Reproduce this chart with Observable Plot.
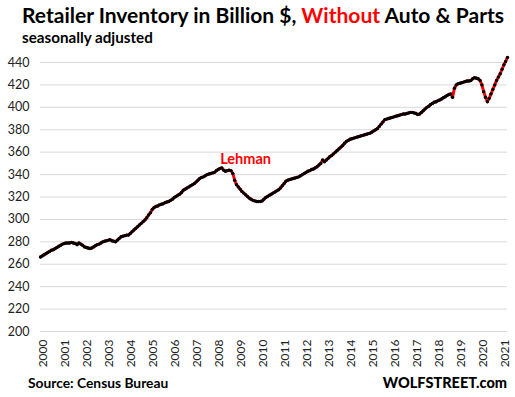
<!DOCTYPE html>
<html>
<head>
<meta charset="utf-8">
<script src="https://cdn.jsdelivr.net/npm/d3@7"></script>
<script src="https://cdn.jsdelivr.net/npm/@observablehq/plot@0.6"></script>
<style>
  html, body { margin: 0; padding: 0; background: #fff; }
  body { width: 515px; height: 397px; overflow: hidden; font-family: Lato, "Open Sans", sans-serif; }
  #header { position: relative; height: 52px; }
  #title { position: absolute; left: 22px; top: 2.6px; font-size: 21px; line-height: 24px; font-weight: 700; color: #000; white-space: nowrap; }
  #title .red { color: #ff0000; }
  #subtitle { position: absolute; left: 22px; top: 28.4px; font-size: 15.2px; line-height: 18px; font-weight: 700; color: #000; white-space: nowrap; }
  #chart { height: 320px; }
  #footer { position: relative; height: 25px; }
  #source { position: absolute; left: 28px; top: 1px; font-size: 13.8px; line-height: 20px; font-weight: 700; color: #000; }
  #brand { position: absolute; right: 8px; top: 1px; font-size: 14.5px; line-height: 20px; font-weight: 900; color: #000; }
</style>
</head>
<body>
<div id="header">
  <div id="title">Retailer Inventory in Billion $, <span class="red">Without</span> Auto &amp; Parts</div>
  <div id="subtitle">seasonally adjusted</div>
</div>
<div id="chart"></div>
<div id="footer">
  <div id="source">Source: Census Bureau</div>
  <div id="brand">WOLFSTREET.com</div>
</div>
<script>
// Monthly retailer inventories excl. auto & parts, billion $, seasonally adjusted
const y2000 = [266.5, 267.5, 268.5, 269.5, 270.5, 271.5, 272.5, 273, 274, 275, 276, 277];
const y2001 = [278, 278.5, 279, 279, 279, 279.5, 279, 278.5, 277.5, 279, 278, 277];
const y2002 = [275.5, 275, 274.5, 274, 274.5, 275.5, 276.5, 277.5, 278, 279, 280, 280.5];
const y2003 = [281, 281.5, 282, 281, 280.5, 280, 281.5, 283, 284.5, 285, 285.5, 286];
const y2004 = [286, 287.5, 289, 290.5, 292, 293.5, 295, 296.5, 298, 299.5, 301.5, 304];
const y2005 = [306, 309, 310.5, 311.5, 312, 313, 313.5, 314, 315, 315.5, 316, 317];
const y2006 = [318, 319.5, 320.5, 321.5, 322.5, 324, 326, 327, 328, 329, 330, 331];
const y2007 = [332, 333.5, 335, 336.5, 337.5, 338, 339, 340, 340.5, 341, 341.5, 342];
const y2008 = [343.5, 344.5, 345.5, 346, 344, 343, 343.5, 344, 343.5, 341, 335, 331];
const y2009 = [329, 327, 325, 323.5, 322, 320.5, 319, 318, 317, 316.5, 316, 316];
const y2010 = [316, 316.5, 318, 319.5, 320.5, 321.5, 322.5, 323.5, 324.5, 325.5, 326.5, 328];
const y2011 = [330, 332, 334, 335, 335.5, 336, 336.5, 337, 337.5, 338, 339, 340];
const y2012 = [341, 342, 343, 343.5, 344.5, 345, 346, 347, 348.5, 350, 353, 351.5];
const y2013 = [353, 354.5, 356, 357, 358.5, 360, 361.5, 363, 364.5, 366, 368, 369.5];
const y2014 = [370.5, 371.5, 372, 372.5, 373, 373.5, 374, 374.5, 375, 375.5, 376, 376.5];
const y2015 = [377, 378, 379, 380, 381, 383, 385, 387, 389, 389.5, 390, 390.5];
const y2016 = [391, 391.5, 392, 392.5, 393, 393.5, 394, 394, 394.5, 395, 395.5, 395.5];
const y2017 = [395, 394.5, 393.5, 394, 395.5, 397, 398.5, 400, 401, 402.5, 403.5, 404.5];
const y2018 = [405, 406, 406.5, 407.5, 408.5, 409.5, 410.5, 411.5, 412, 409, 417, 420];
const y2019 = [421, 421.5, 422, 422.5, 423, 423.5, 423.5, 424, 425.5, 426.5, 426, 425.5];
const y2020 = [424, 420, 414, 409, 405, 408, 412, 416, 420, 424, 427, 430];
const y2021 = [434, 438, 441, 444.5];

const yearSeries = [y2000, y2001, y2002, y2003, y2004, y2005, y2006, y2007, y2008, y2009, y2010,
  y2011, y2012, y2013, y2014, y2015, y2016, y2017, y2018, y2019, y2020, y2021];
const firstYear = 2000;
const yTicks = [200, 220, 240, 260, 280, 300, 320, 340, 360, 380, 400, 420, 440];
const xTickYears = d3.range(2000, 2022);
const lehman = [{label: "Lehman", date: new Date(2009, 4, 1), value: 354}];

const data = [];
yearSeries.forEach((arr, i) => arr.forEach((v, m) => data.push({date: new Date(firstYear + i, m, 1), value: v})));

const chart = Plot.plot({
  width: 515,
  height: 320,
  marginLeft: 40,
  marginRight: 8,
  marginTop: 10,
  marginBottom: 41,
  style: {fontFamily: "Lato, sans-serif", fontSize: "12px", color: "#222", background: "#fff"},
  x: {
    type: "utc",
    domain: [data[0].date, data[data.length - 1].date],
    label: null
  },
  y: {
    domain: [200, 440],
    label: null
  },
  marks: [
    Plot.gridY(yTicks, {stroke: "#d9d9d9", strokeOpacity: 1, strokeWidth: 1}),
    Plot.axisX({ticks: xTickYears.map(y => new Date(y, 0, 1)), tickFormat: d => String(d.getFullYear()), tickRotate: -90, tickSize: 0, tickPadding: 8, dx: 3, fontSize: 12, fill: "#222", label: null}),
    Plot.axisY({ticks: yTicks, tickSize: 0, tickPadding: 11, fontSize: 12.5, fill: "#222", label: null}),
    Plot.line(data, {x: "date", y: "value", stroke: "#ff0000", strokeWidth: 3, clip: false}),
    Plot.dot(data, {x: "date", y: "value", fill: "#000", r: 1.7, stroke: null}),
    Plot.text(lehman, {x: "date", y: "value", text: "label", fill: "#ff0000", fontWeight: "bold", fontSize: 14.5, textAnchor: "middle"})
  ]
});
document.getElementById("chart").appendChild(chart);
</script>
</body>
</html>
